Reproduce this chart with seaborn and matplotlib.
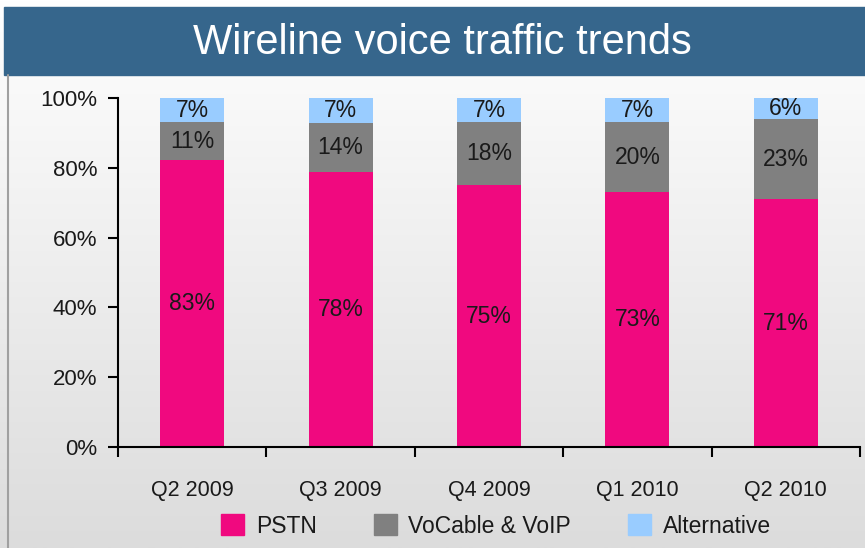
import numpy as np
import pandas as pd
import seaborn as sns
import matplotlib.pyplot as plt
from matplotlib.patches import Rectangle, Patch
from matplotlib.colors import LinearSegmentedColormap

quarters = ['Q2 2009', 'Q3 2009', 'Q4 2009', 'Q1 2010', 'Q2 2010']
pstn = [83, 78, 75, 73, 71]
voip = [11, 14, 18, 20, 23]
alternative = [7, 7, 7, 7, 6]

series = ['PSTN', 'VoCable & VoIP', 'Alternative']
colors = ['#F0097F', '#808080', '#99CCFF']

sns.set_theme(style='white')
plt.rcParams['font.family'] = ['Liberation Sans', 'DejaVu Sans']

df = pd.DataFrame({'quarter': quarters, 'PSTN': pstn,
                   'VoCable & VoIP': voip, 'Alternative': alternative})
total = df[series].sum(axis=1)
for s in series:
    df[s + '_pct'] = df[s] / total * 100
df['top_pstn'] = df['PSTN_pct']
df['top_voip'] = df['top_pstn'] + df['VoCable & VoIP_pct']
df['top_alt'] = df['top_voip'] + df['Alternative_pct']

fig = plt.figure(figsize=(8.65, 5.48), dpi=100)

# background gradient panel (white at top, light grey at bottom)
bg = fig.add_axes([0, 0, 1, 1], zorder=-10)
grad = np.linspace(0, 1, 256).reshape(-1, 1)
cmap = LinearSegmentedColormap.from_list('bg', ['#ffffff', '#dcdcdc'])
bg.imshow(grad, aspect='auto', cmap=cmap, extent=[0, 1, 1, 0], origin='upper')
bg.set_xlim(0, 1)
bg.set_ylim(1, 0)
bg.axis('off')
# title banner
bg.add_patch(Rectangle((4 / 865, 7 / 548), 1, 68 / 548, color='#36668C'))
bg.plot([8 / 865, 8 / 865], [75 / 548, 1], color='#a0a0a0', lw=1.5)
bg.text(442 / 865, 43 / 548, 'Wireline voice traffic trends', color='white',
        fontsize=30, ha='center', va='center')

ax = fig.add_axes([118 / 865, 1 - 447 / 548, 742 / 865, 349 / 548])
ax.set_facecolor('none')
for col, c in zip(['top_alt', 'top_voip', 'top_pstn'], colors[::-1]):
    sns.barplot(data=df, x='quarter', y=col, color=c, width=0.43,
                saturation=1, linewidth=0, ax=ax)

for i in range(len(quarters)):
    lows = [0, df['top_pstn'][i], df['top_voip'][i]]
    highs = [df['top_pstn'][i], df['top_voip'][i], df['top_alt'][i]]
    vals = [pstn[i], voip[i], alternative[i]]
    for lo, hi, v in zip(lows, highs, vals):
        ax.text(i, (lo + hi) / 2, f'{v}%', ha='center', va='center',
                fontsize=16.5, color='#1a1a1a')

ax.set_xlim(-0.5, 4.5)
ax.set_ylim(0, 100)
ax.set_yticks(range(0, 101, 20))
ax.set_yticklabels([f'{t}%' for t in range(0, 101, 20)], fontsize=16,
                   color='#1a1a1a')
ax.set_xticks(np.arange(-0.5, 5, 1))
ax.set_xticklabels([])
ax.set_xticks(range(5), minor=True)
ax.set_xticklabels(quarters, minor=True, fontsize=15.5, color='#1a1a1a')
ax.tick_params(axis='x', which='minor', length=0, pad=24)
ax.tick_params(axis='x', which='major', direction='out', length=7, width=1.5,
               color='black', bottom=True)
ax.tick_params(axis='y', direction='out', length=7, width=1.5, color='black',
               left=True, pad=8)
ax.set_xlabel('')
ax.set_ylabel('')
sns.despine(ax=ax)
for sp in ['left', 'bottom']:
    ax.spines[sp].set_color('black')
    ax.spines[sp].set_linewidth(1.5)

handles = [Patch(color=c, label=s) for c, s in zip(colors, series)]
fig.legend(handles=handles, loc='center', bbox_to_anchor=(496 / 865, 1 - 526 / 548),
           ncol=3, frameon=False, fontsize=16.5, handlelength=1.0, handleheight=1.0,
           columnspacing=2.5, handletextpad=0.5, labelcolor='#1a1a1a')

fig.savefig('out.png', dpi=100)
